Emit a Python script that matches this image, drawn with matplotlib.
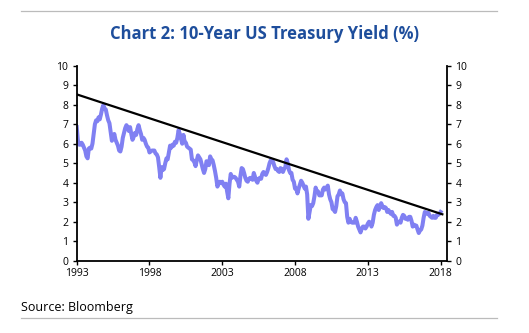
import numpy as np
import matplotlib
matplotlib.use("Agg")
import matplotlib.pyplot as plt
from matplotlib.lines import Line2D

# Monthly 10-year US Treasury yield (%), Jan 1993 onward
yield_pct = [
    6.85, 6.15, 5.95, 5.95, 6.05, 5.95, 5.80, 5.65, 5.35, 5.25, 5.75, 5.80,  # 1993
    5.75, 6.00, 6.50, 7.00, 7.20, 7.15, 7.35, 7.25, 7.50, 7.80, 7.98, 7.80,  # 1994
    7.75, 7.45, 7.20, 7.05, 6.60, 6.15, 6.30, 6.50, 6.20, 6.05, 5.90, 5.65,  # 1995
    5.60, 5.85, 6.30, 6.55, 6.80, 6.95, 6.85, 6.65, 6.85, 6.50, 6.20, 6.35,  # 1996
    6.55, 6.45, 6.75, 6.95, 6.70, 6.50, 6.20, 6.30, 6.20, 6.00, 5.85, 5.80,  # 1997
    5.55, 5.60, 5.65, 5.65, 5.65, 5.50, 5.45, 5.30, 4.80, 4.25, 4.80, 4.65,  # 1998
    4.70, 5.00, 5.25, 5.20, 5.55, 5.90, 5.80, 5.95, 5.90, 6.10, 6.05, 6.30,  # 1999
    6.70, 6.50, 6.25, 6.00, 6.45, 6.10, 6.05, 5.85, 5.80, 5.75, 5.70, 5.20,  # 2000
    5.15, 5.05, 4.85, 5.15, 5.40, 5.30, 5.20, 4.95, 4.70, 4.50, 4.70, 5.10,  # 2001
    5.05, 4.90, 5.35, 5.20, 5.15, 4.90, 4.60, 4.25, 3.80, 3.95, 4.05, 4.00,  # 2002
    4.05, 3.90, 3.80, 3.95, 3.55, 3.20, 3.95, 4.45, 4.25, 4.30, 4.30, 4.25,  # 2003
    4.15, 4.05, 3.80, 4.35, 4.75, 4.70, 4.50, 4.25, 4.10, 4.05, 4.20, 4.25,  # 2004
    4.20, 4.15, 4.50, 4.30, 4.10, 4.00, 4.20, 4.25, 4.20, 4.45, 4.55, 4.45,  # 2005
    4.40, 4.55, 4.75, 5.00, 5.15, 5.15, 5.05, 4.85, 4.70, 4.70, 4.60, 4.55,  # 2006
    4.75, 4.70, 4.55, 4.70, 4.80, 5.20, 5.00, 4.65, 4.50, 4.50, 4.15, 4.05,  # 2007
    3.70, 3.70, 3.45, 3.70, 3.90, 4.10, 4.00, 3.85, 3.70, 3.80, 3.40, 2.15,  # 2008
    2.50, 2.85, 2.80, 2.95, 3.30, 3.75, 3.55, 3.55, 3.35, 3.35, 3.35, 3.65,  # 2009
    3.75, 3.65, 3.75, 3.85, 3.40, 3.15, 3.00, 2.65, 2.60, 2.50, 2.80, 3.30,  # 2010
    3.40, 3.60, 3.40, 3.45, 3.15, 3.00, 2.95, 2.25, 1.95, 2.15, 2.00, 1.95,  # 2011
    1.95, 1.95, 2.20, 2.00, 1.75, 1.60, 1.45, 1.65, 1.75, 1.75, 1.65, 1.75,  # 2012
    1.90, 2.00, 1.95, 1.75, 1.95, 2.35, 2.60, 2.75, 2.85, 2.60, 2.75, 2.95,  # 2013
    2.80, 2.70, 2.75, 2.70, 2.50, 2.60, 2.50, 2.40, 2.50, 2.30, 2.30, 2.20,  # 2014
    1.85, 2.00, 2.00, 1.95, 2.20, 2.35, 2.30, 2.15, 2.15, 2.10, 2.25, 2.25,  # 2015
    2.05, 1.75, 1.85, 1.80, 1.80, 1.60, 1.42, 1.55, 1.60, 1.80, 2.20, 2.50,  # 2016
    2.45, 2.40, 2.45, 2.30, 2.25, 2.20, 2.30, 2.20, 2.20, 2.35, 2.35, 2.40,  # 2017
    2.50,                                                                    # 2018
]
start_year = 1993

# Long-run downtrend line through the yield peaks
trend_years = [1993.0, 2018.12]
trend_vals = [8.53, 2.38]

x_ticks = [1993, 1998, 2003, 2008, 2013, 2018]
y_ticks = list(range(0, 11))

years = start_year + np.arange(len(yield_pct)) / 12.0

W, H = 529, 333
fig = plt.figure(figsize=(W / 100, H / 100), dpi=100)
fig.patch.set_facecolor("white")

ax = fig.add_axes([76.7 / W, 1 - 260.7 / H, (447 - 76.7) / W, (260.7 - 65.7) / H])
ax.plot(years, yield_pct, color="#8080F2", lw=2.9, solid_joinstyle="round", zorder=2)
ax.plot(trend_years, trend_vals, color="black", lw=1.6, zorder=3)

ax.set_xlim(1993, 2018.44)
ax.set_ylim(0, 10)
ax.set_xticks(x_ticks)
ax.set_yticks(y_ticks)

font = "Open Sans"
ax.tick_params(axis="y", which="both", direction="out", length=3, width=1,
               left=True, right=True, labelleft=True, labelright=True,
               labelsize=7.5, pad=3, colors="black")
ax.tick_params(axis="x", direction="out", length=3, width=1, labelsize=7.5, pad=2.5)
for lab in ax.get_xticklabels() + ax.get_yticklabels():
    lab.set_fontfamily(font)
for lab in ax.yaxis.get_ticklabels(which="both"):
    lab.set_fontfamily(font)

for s in ["left", "right", "bottom"]:
    ax.spines[s].set_linewidth(1.3)
    ax.spines[s].set_color("black")
ax.spines["top"].set_visible(False)

# Title and source
fig.text(265 / W, 1 - 34 / H, "Chart 2: 10-Year US Treasury Yield (%)",
         ha="center", va="center", fontsize=12, fontweight="bold",
         color="#1E4E9C", family=font)
fig.text(21 / W, 1 - 307 / H, "Source: Bloomberg", ha="left", va="center",
         fontsize=9, color="black", family=font)

# Horizontal rules framing the exhibit
for yy in (11, 318):
    fig.add_artist(Line2D([21 / W, 497 / W], [1 - yy / H, 1 - yy / H],
                          color="#BBBBBB", lw=0.9, transform=fig.transFigure))

fig.savefig("out.png", dpi=100)
